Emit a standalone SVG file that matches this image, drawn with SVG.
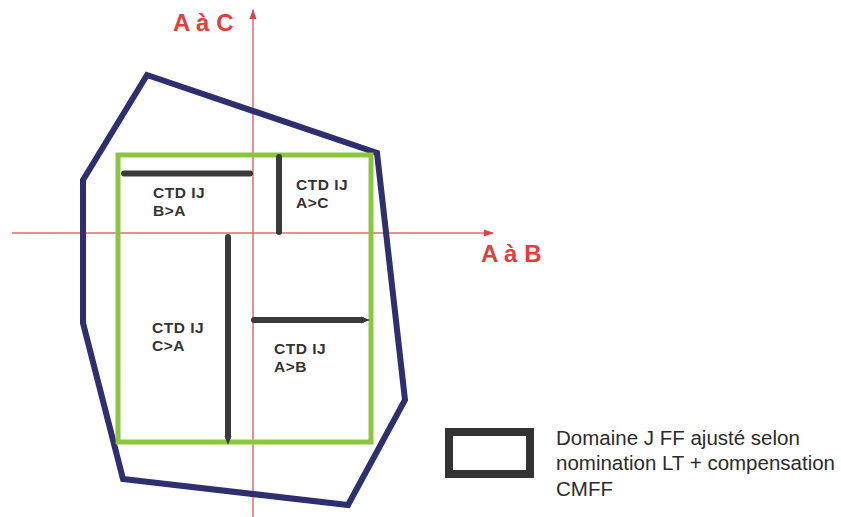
<svg xmlns="http://www.w3.org/2000/svg" width="841" height="517" viewBox="0 0 841 517">
  <style>
    .axis { stroke: #e86a6a; stroke-width: 1.5; fill: none; }
    .axislbl { font-family: "Liberation Sans", Arial, sans-serif; font-weight: bold; fill: #e63c3c; font-size: 24px; }
    .bar { stroke: #3a3a3a; stroke-width: 6; stroke-linecap: round; fill: none; }
    .tip { fill: #3a3a3a; }
    .lbl { font-family: "Liberation Sans", Arial, sans-serif; font-weight: bold; fill: #333333; font-size: 15.5px; letter-spacing: 0.5px; }
    .leg { font-family: "Liberation Sans", Arial, sans-serif; fill: #2b2b2b; font-size: 20.5px; }
  </style>
  <defs>
    <marker id="redArrow" markerWidth="10" markerHeight="10" refX="9" refY="5" orient="auto" markerUnits="userSpaceOnUse">
      <path d="M0,1.5 L10,5 L0,8.5 Z" fill="#e0404a"/>
    </marker>
  </defs>
  <rect width="841" height="517" fill="#ffffff"/>

  <g id="axes">
    <line class="axis" x1="253" y1="517" x2="253" y2="10" marker-end="url(#redArrow)"/>
    <line class="axis" x1="12" y1="233" x2="493" y2="233" marker-end="url(#redArrow)"/>
    <text class="axislbl" x="173" y="31">A à C</text>
    <text class="axislbl" x="481" y="262" font-size="23">A à B</text>
  </g>

  <g id="domain-polygon">
    <polygon points="147,75 377,153 405,400 348,505 123,479 83,323 83,180" fill="none" stroke="#2f2e6f" stroke-width="6" stroke-linejoin="miter"/>
  </g>

  <g id="green-rect">
    <rect x="118" y="155" width="253" height="287" fill="none" stroke="#8cc63f" stroke-width="5"/>
  </g>

  <g id="connectors">
    <line class="bar" x1="124" y1="173.5" x2="250" y2="173.5"/>
    <line class="bar" x1="279" y1="157" x2="279" y2="232"/>
    <line class="bar" x1="228" y1="237" x2="228" y2="437"/>
    <path class="tip" d="M224.5,436 L228,445 L231.5,436 Z"/>
    <line class="bar" x1="254" y1="320" x2="362" y2="320"/>
    <path class="tip" d="M361,316.5 L370,320 L361,323.5 Z"/>
  </g>

  <g id="node-BA">
    <text class="lbl" x="153" y="198">CTD IJ</text>
    <text class="lbl" x="153" y="216">B&gt;A</text>
  </g>
  <g id="node-AC">
    <text class="lbl" x="296" y="190">CTD IJ</text>
    <text class="lbl" x="296" y="208">A&gt;C</text>
  </g>
  <g id="node-CA">
    <text class="lbl" x="152" y="333">CTD IJ</text>
    <text class="lbl" x="152" y="351">C&gt;A</text>
  </g>
  <g id="node-AB">
    <text class="lbl" x="274" y="354">CTD IJ</text>
    <text class="lbl" x="274" y="372">A&gt;B</text>
  </g>

  <g id="legend">
    <rect x="449" y="432" width="81" height="42" fill="none" stroke="#333333" stroke-width="8"/>
    <text class="leg" x="556" y="445">Domaine J FF ajusté selon</text>
    <text class="leg" x="556" y="470">nomination LT + compensation</text>
    <text class="leg" x="556" y="496">CMFF</text>
  </g>
</svg>
